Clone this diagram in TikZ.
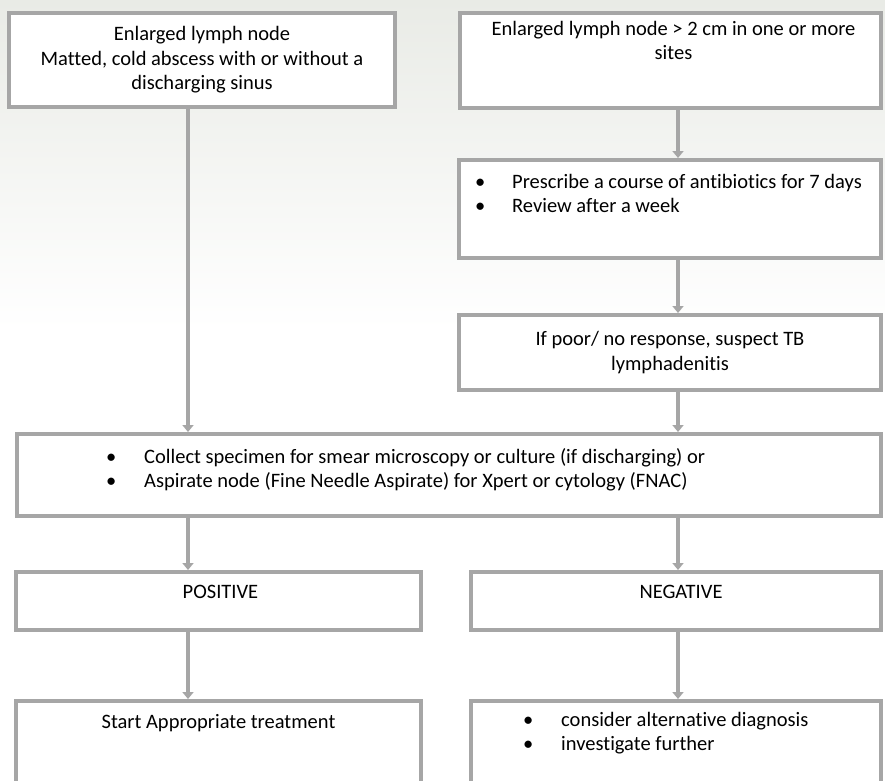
\documentclass[tikz,border=0pt]{standalone}
\usepackage{fontspec}
\setmainfont{Carlito}[Ligatures=NoCommon]
\usepackage{xcolor}
\usetikzlibrary{calc,positioning,arrows.meta}
\definecolor{color_box_line}{HTML}{a6a6a6}
\definecolor{color_bg_top}{HTML}{e9ebe6}
\definecolor{color_bg_mid}{HTML}{f5f7f2}
\newcommand{\bulletitem}[2][37pt]{\makebox[#1][l]{\textbullet}#2}

\begin{document}
\begin{tikzpicture}[x=1pt,y=-1pt,
	every node/.style={font=\fontsize{20.5}{24.5}\selectfont,text=black},
	box/.style={draw=color_box_line,line width=4pt,fill=white,inner sep=0pt},
	txt/.style={inner sep=0pt,text height=14pt,align=center},
	lst/.style={inner sep=0pt,align=left,anchor=north west},
	link/.style={draw=color_box_line,line width=4pt,-{Triangle[width=11pt,length=7pt]}}]
				\useasboundingbox (0,0) rectangle (885,780);
				\clip (0,0) rectangle (885,780);
				% Background
				\fill[white] (0,0) rectangle (885,780);
				\shade[top color=color_bg_top,middle color=color_bg_mid,bottom color=white]
					(0,0) rectangle (885,330);
				
				% Points
				\coordinate (lx) at (188,0);
				\coordinate (rx) at (678,0);
				
				% Boxes
				\node[box,minimum width=386,minimum height=94,align=center] (A) at (202,60)
					{Enlarged lymph node\\ Matted, cold abscess with or without a\\ discharging sinus};
				\node[box,minimum width=421,minimum height=95] (B) at (670.5,60.5) {};
				\node[box,minimum width=422,minimum height=98] (C) at (670,209) {};
				\node[box,minimum width=422,minimum height=75,align=center] (D) at (670,352.5)
					{If poor/ no response, suspect TB\\ lymphadenitis};
				\node[box,minimum width=864,minimum height=82] (E) at (449,475) {};
				\node[box,minimum width=405,minimum height=58] (P) at (218.5,601) {};
				\node[box,minimum width=410,minimum height=58] (N) at (676,601) {};
				\node[box,minimum width=405,minimum height=120] (S) at (218.5,761) {};
				\node[box,minimum width=410,minimum height=120] (T) at (676,761) {};
				
				% Texts
				\node[inner sep=0pt,align=center,below=10pt of B.north,xshift=3pt] (Btext)
					{Enlarged lymph node > 2 cm in one or more\\ sites};
				\node[lst] (Ctext) at ($(C.north west)+(18,16)$)
					{\bulletitem{Prescribe a course of antibiotics for 7 days}\\ \bulletitem{Review after a week}};
				\node[lst] (Etext) at ($(E.north west)+(91,16)$)
					{\bulletitem[38pt]{Collect specimen for smear microscopy or culture (if discharging) or}\\
					 \bulletitem[38pt]{Aspirate node (Fine Needle Aspirate) for Xpert or cytology (FNAC)}};
				\node[txt,below=14pt of P.north,xshift=2pt] (Ptext) {POSITIVE};
				\node[txt,below=14pt of N.north,xshift=5pt] (Ntext) {NEGATIVE};
				\node[txt,below=15pt of S.north] (Stext) {Start Appropriate treatment};
				\node[lst] (Ttext) at ($(T.north west)+(54,13)$)
					{\bulletitem[38pt]{consider alternative diagnosis}\\ \bulletitem[38pt]{investigate further}};
				
				% Arrows
				\draw[link] (A.south -| lx) -- (E.north -| lx);
				\draw[link] (B.south -| rx) -- (C.north -| rx);
				\draw[link] (C.south -| rx) -- (D.north -| rx);
				\draw[link] (D.south -| rx) -- (E.north -| rx);
				\draw[link] (E.south -| lx) -- (P.north -| lx);
				\draw[link] (E.south -| rx) -- (N.north -| rx);
				\draw[link] (P.south -| lx) -- (S.north -| lx);
				\draw[link] (N.south -| rx) -- (T.north -| rx);
			\end{tikzpicture}
\end{document}
